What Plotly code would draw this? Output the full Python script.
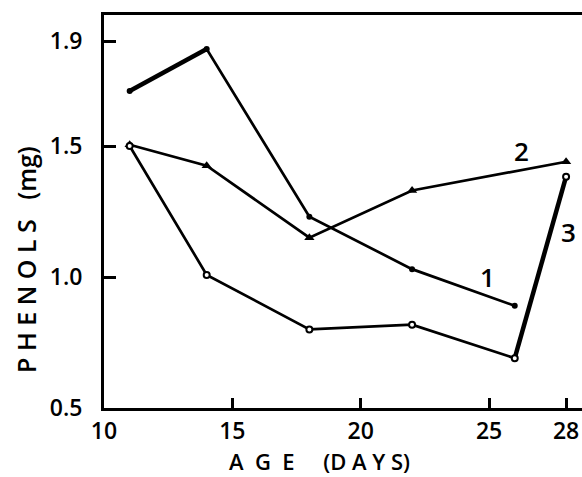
import plotly.graph_objects as go

# Data
days_1 = [11, 14, 18, 22, 26]
phenols_1 = [1.71, 1.87, 1.23, 1.03, 0.89]

days_2 = [11, 14, 18, 22, 28]
phenols_2 = [1.505, 1.425, 1.15, 1.33, 1.44]

days_3 = [11, 14, 18, 22, 26, 28]
phenols_3 = [1.50, 1.008, 0.80, 0.818, 0.69, 1.383]

x_ticks = [10, 15, 20, 25, 28]
y_ticks = [0.5, 1.0, 1.5, 1.9]
y_tick_labels = ["0.5", "1.0", "1.5", "1.9"]

series_labels = ["1", "2", "3"]
label_pos_x = [24.95, 26.25, 28.1]
label_pos_y = [1.0, 1.48, 1.17]

FONT = "Open Sans"
INK = "black"
W = 600

fig = go.Figure()

# series 1 (filled dots)
fig.add_trace(go.Scatter(x=days_1, y=phenols_1, mode="lines+markers",
                         line=dict(color=INK, width=2.7),
                         marker=dict(symbol="circle", size=6, color=INK),
                         showlegend=False))
fig.add_trace(go.Scatter(x=days_1[0:2], y=phenols_1[0:2], mode="lines",
                         line=dict(color=INK, width=4.5), showlegend=False))

# series 2 (triangles)
fig.add_trace(go.Scatter(x=days_2, y=phenols_2, mode="lines+markers",
                         line=dict(color=INK, width=2.7),
                         marker=dict(symbol="triangle-up", size=9, color=INK),
                         showlegend=False))

# series 3 (open circles)
fig.add_trace(go.Scatter(x=days_3[-2:], y=phenols_3[-2:], mode="lines",
                         line=dict(color=INK, width=4.5), showlegend=False))
fig.add_trace(go.Scatter(x=days_3, y=phenols_3, mode="lines+markers",
                         line=dict(color=INK, width=2.7),
                         marker=dict(symbol="circle", size=6, color="white",
                                     line=dict(color=INK, width=2)),
                         showlegend=False))

for t, lx, ly in zip(series_labels, label_pos_x, label_pos_y):
    fig.add_annotation(x=lx, y=ly, text=t, showarrow=False,
                       font=dict(family=FONT, size=26, color=INK, weight=W))

# x axis title
fig.add_annotation(xref="x", yref="paper", x=18.4, y=-0.136,
                   xanchor="center", yanchor="middle", showarrow=False,
                   text="A &nbsp;G &nbsp;E &nbsp;&nbsp;&nbsp;&nbsp;(D A Y S)",
                   font=dict(family=FONT, size=22, color=INK, weight=W))

# y axis title
fig.add_annotation(xref="paper", yref="paper", x=-0.163, y=0.377,
                   xanchor="center", yanchor="middle", showarrow=False,
                   textangle=-90,
                   text="P H E N O L S &nbsp;&nbsp;(mg)",
                   font=dict(family=FONT, size=25, color=INK, weight=W))

fig.update_layout(
    width=582, height=477,
    margin=dict(l=104, r=0, t=15, b=69),
    paper_bgcolor="white", plot_bgcolor="white",
    font=dict(family=FONT, color=INK),
    xaxis=dict(range=[10, 28.62], tickmode="array", tickvals=x_ticks,
               ticktext=[str(v) for v in x_ticks],
               ticks="inside", ticklen=10, tickwidth=2.5, tickcolor=INK,
               showline=True, linecolor=INK, linewidth=3, mirror=True,
               showgrid=False, zeroline=False,
               tickfont=dict(family=FONT, size=23, color=INK, weight=W)),
    yaxis=dict(range=[0.5, 2.0], tickmode="array", tickvals=y_ticks,
               ticktext=y_tick_labels,
               ticks="inside", ticklen=12, tickwidth=2.5, tickcolor=INK,
               showline=True, linecolor=INK, linewidth=3,
               showgrid=False, zeroline=False,
               ticklabelstandoff=14,
               tickfont=dict(family=FONT, size=23, color=INK, weight=W)),
)

fig.write_html("out.html")
